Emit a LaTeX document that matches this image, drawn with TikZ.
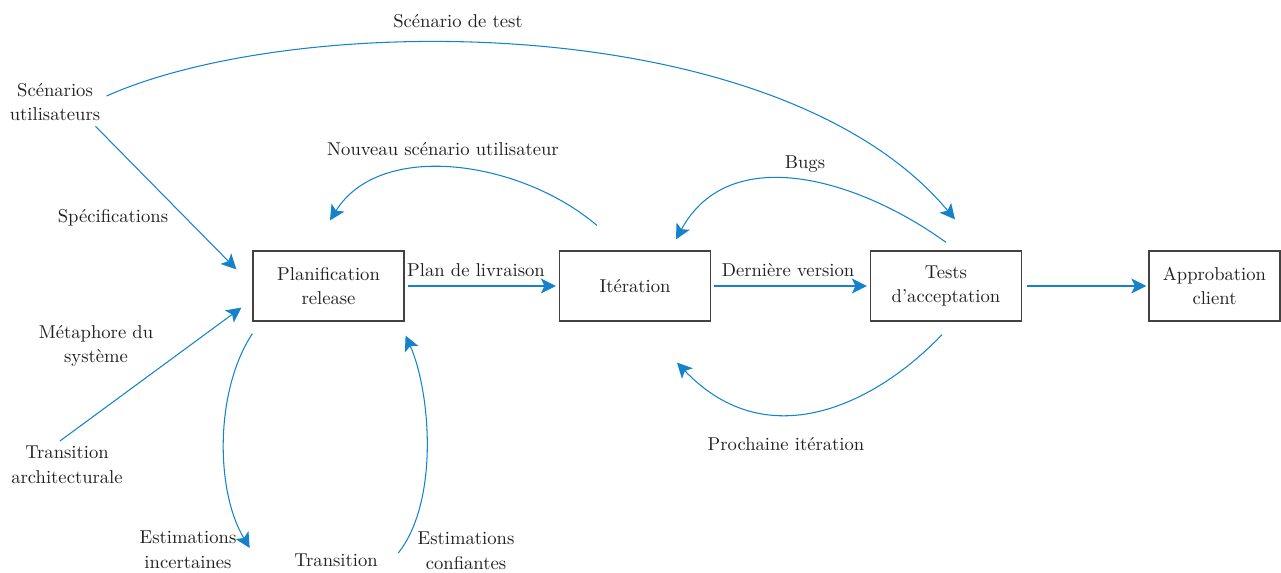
\documentclass[tikz,border=0pt]{standalone}
\usetikzlibrary{arrows.meta}
\definecolor{flowblue}{RGB}{20,130,205}
\definecolor{ink}{RGB}{35,31,32}

\begin{document}
\begin{tikzpicture}[x=0.02cm,y=-0.02cm,
  font=\fontsize{10.6}{14}\selectfont, text=ink,
  box/.style={draw=ink!85, line width=0.7pt, minimum width=3.02cm, minimum height=1.4cm, align=center, inner sep=0pt},
  lbl/.style={align=center, inner sep=0pt},
  flow/.style={draw=flowblue, line width=0.6pt, -{Stealth[length=0.3cm,width=0.3cm,inset=0.07cm]}}]
\useasboundingbox (0,0) rectangle (1281,573);

% process boxes
\node[box] (plan) at (328.5,286) {Planification\\release};
\node[box] (iter) at (635,286) {Itération};
\node[box] (tests) at (946,286) {Tests\\d'acceptation};
\node[box, minimum width=2.62cm] (appro) at (1214.5,286) {Approbation\\client};

% inputs and outputs
\node[lbl] (su) at (55,102) {Scénarios\\utilisateurs};
\node[lbl] (ta) at (67,465) {Transition\\architecturale};
\node[lbl] (ei) at (188,550) {Estimations\\incertaines};
\node[lbl] (tr) at (336,560) {Transition};
\node[lbl] (ec) at (466,551) {Estimations\\confiantes};

% labels
\node[lbl] (scTest) at (458,21) {Scénario de test};
\node[lbl] (spec) at (113,218) {Spécifications};
\node[lbl] (meta) at (96,346) {Métaphore du\\système};
\node[lbl] (nouv) at (443,149) {Nouveau scénario utilisateur};
\node[lbl] (livr) at (476,270) {Plan de livraison};
\node[lbl] (dern) at (788,270) {Dernière version};
\node[lbl] (bugs) at (805,164) {Bugs};
\node[lbl] (proch) at (786,444) {Prochaine itération};

% main flow
\draw[flow, shorten <=0.06cm, shorten >=0.06cm] (plan) -- (iter);
\draw[flow, shorten <=0.06cm, shorten >=0.06cm] (iter) -- (tests);
\draw[flow, shorten <=0.1cm, shorten >=0.04cm] (tests) -- (appro);

% feedback curves
\draw[flow] ([shift={(0.12cm,0.12cm)}]su.east) .. controls (300,10) and (780,10) .. ([shift={(0.18cm,0.62cm)}]tests.north);
\draw[flow] ([shift={(-0.1cm,-0.1cm)}]su.south east) -- ([shift={(-0.32cm,-0.38cm)}]plan.north west);
\draw[flow] ([shift={(-0.14cm,0.1cm)}]ta.north) -- ([shift={(-0.22cm,0.28cm)}]plan.south west);
\draw[flow] ([shift={(0cm,-0.24cm)}]plan.south west) .. controls (215,390) and (215,490) .. ([shift={(0.26cm,0.04cm)}]ei.east);
\draw[flow] ([shift={(-0.38cm,-0.04cm)}]ec.west) .. controls (440,500) and (430,390) .. ([shift={(0.02cm,-0.28cm)}]plan.south east);
\draw[flow] ([shift={(0.76cm,0.5cm)}]iter.north west) .. controls (520,160) and (380,140) .. ([shift={(0.03cm,0.6cm)}]plan.north);
\draw[flow] ([shift={(0cm,0.16cm)}]tests.north) .. controls (860,180) and (730,140) .. ([shift={(0.82cm,0.22cm)}]iter.north);
\draw[flow] ([shift={(-0.08cm,-0.26cm)}]tests.south) .. controls (880,400) and (770,460) .. ([shift={(0.84cm,-0.82cm)}]iter.south);
\end{tikzpicture}
\end{document}
